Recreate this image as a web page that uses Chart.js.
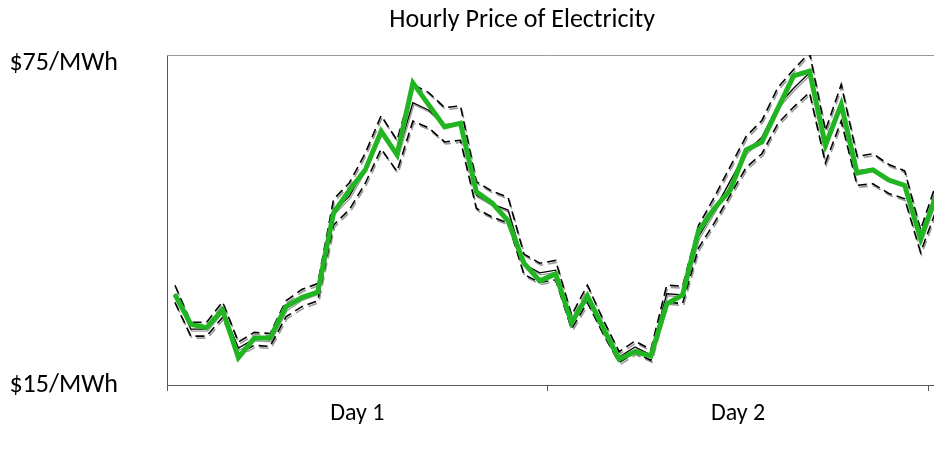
<!DOCTYPE html>
<html>
<head>
<meta charset="utf-8">
<script src="https://cdn.jsdelivr.net/npm/chart.js@4/dist/chart.umd.min.js"></script>
<style>
  html, body { margin: 0; padding: 0; background: #ffffff; }
  #wrap { width: 934px; height: 452px; position: relative; }
</style>
</head>
<body>
<div id="wrap"><canvas id="c" width="934" height="452"></canvas></div>
<script>
// ---- data (hourly, 2 days + first hour of day 3, $/MWh) ----
const chartTitle = 'Hourly Price of Electricity';
const dayLabels = ['Day 1', 'Day 2'];
const hoursPerDay = 24;
const yTickValues = [15, 75];

const actualPrice = [
  31.9, 26.3, 25.7, 29.0, 20.1, 23.7, 23.8, 29.6, 31.3, 32.3, 47.1, 51.3,
  55.1, 62.3, 57.9, 71.3, 67.2, 63.1, 63.8, 51.0, 48.9, 45.6, 37.7, 34.4,
  35.7, 26.6, 31.6, 25.6, 19.8, 21.2, 20.4, 30.1, 31.8, 43.7, 47.9, 51.3,
  58.8, 60.3, 66.5, 72.6, 73.5, 59.7, 67.3, 54.5, 55.1, 53.2, 52.2, 42.3,
  50.4
];
const forecastPrice = [
  32.0, 25.4, 25.4, 29.0, 21.9, 23.6, 23.4, 29.2, 31.2, 32.3, 47.2, 50.2,
  55.4, 62.1, 57.7, 67.6, 66.2, 63.5, 63.8, 50.4, 48.7, 47.6, 37.5, 35.9,
  36.4, 26.7, 32.0, 25.8, 20.2, 22.1, 20.6, 32.0, 31.8, 42.6, 47.6, 53.0,
  58.4, 61.2, 67.0, 70.3, 73.2, 59.4, 67.6, 54.9, 55.3, 53.4, 52.3, 41.8,
  50.2
];
const upperBand = [
  33.6, 26.7, 26.7, 30.5, 23.0, 24.8, 24.6, 30.7, 32.8, 33.9, 49.6, 52.7,
  58.2, 65.2, 60.6, 71.0, 69.5, 66.7, 67.0, 52.9, 51.1, 50.0, 39.4, 37.7,
  38.2, 28.0, 33.6, 27.1, 21.2, 23.2, 21.6, 33.6, 33.4, 44.7, 50.0, 55.7,
  61.3, 64.3, 70.4, 73.8, 76.9, 62.4, 71.0, 57.6, 58.1, 56.1, 54.9, 43.9,
  52.7
];
const lowerBand = [
  30.4, 24.1, 24.1, 27.6, 20.8, 22.4, 22.2, 27.7, 29.6, 30.7, 44.8, 47.7,
  52.6, 59.0, 54.8, 64.2, 62.9, 60.3, 60.6, 47.9, 46.3, 45.2, 35.6, 34.1,
  34.6, 25.4, 30.4, 24.5, 19.2, 21.0, 19.6, 30.4, 30.2, 40.5, 45.2, 50.4,
  55.5, 58.1, 63.7, 66.8, 69.5, 56.4, 64.2, 52.2, 52.5, 50.7, 49.7, 39.7,
  47.7
];

// ---- helpers ----
const toPoints = arr => arr.map((v, i) => ({ x: i + 0.5, y: v }));
const FONT = "'Carlito', 'Lato', 'Open Sans', sans-serif";
const nDays = dayLabels.length;
const xMaxVisible = nDays * hoursPerDay * 1.00725; // view is cut just past end of day 2

const shadowPlugin = {
  id: 'lineShadow',
  beforeDatasetDraw(chart, args) {
    const ds = chart.data.datasets[args.index];
    if (!ds.shadow) return;
    const ctx = chart.ctx;
    ctx.save();
    ctx.shadowColor = 'rgba(0,0,0,0.4)';
    ctx.shadowOffsetX = 1;
    ctx.shadowOffsetY = 2;
    ctx.shadowBlur = 0.5;
  },
  afterDatasetDraw(chart, args) {
    const ds = chart.data.datasets[args.index];
    if (!ds.shadow) return;
    chart.ctx.restore();
  }
};

const frameAndTitle = {
  id: 'frameAndTitle',
  beforeDatasetsDraw(chart) {
    const { ctx, chartArea } = chart;
    ctx.save();
    ctx.strokeStyle = '#9a9a9a';
    ctx.lineWidth = 1;
    ctx.beginPath();
    ctx.moveTo(chartArea.left, chartArea.top + 0.5);
    ctx.lineTo(chart.width, chartArea.top + 0.5);
    ctx.stroke();
    ctx.restore();
  },
  afterDraw(chart) {
    const ctx = chart.ctx;
    ctx.save();
    ctx.fillStyle = '#000';
    ctx.font = "26px " + FONT;
    ctx.textAlign = 'center';
    ctx.textBaseline = 'middle';
    ctx.fillText(chartTitle, chart.width * 0.559, 20);
    ctx.restore();
  }
};

const blackDash = {
  borderColor: '#000000',
  borderWidth: 1.6,
  borderDash: [9, 5],
  pointRadius: 0,
  tension: 0,
  fill: false,
  shadow: true
};

new Chart(document.getElementById('c'), {
  type: 'line',
  data: {
    datasets: [
      Object.assign({ label: 'Upper', data: toPoints(upperBand), order: 4 }, blackDash),
      Object.assign({ label: 'Lower', data: toPoints(lowerBand), order: 3 }, blackDash),
      { label: 'Forecast', data: toPoints(forecastPrice), borderColor: '#000000', borderWidth: 1.3,
        pointRadius: 0, tension: 0, fill: false, shadow: true, order: 2 },
      { label: 'Actual', data: toPoints(actualPrice), borderColor: '#22b522', borderWidth: 5,
        pointRadius: 0, tension: 0, fill: false, borderJoinStyle: 'miter', order: 1 }
    ]
  },
  options: {
    responsive: false,
    animation: false,
    layout: { padding: { left: 0, right: 0, top: 55, bottom: 0 } },
    plugins: { legend: { display: false }, title: { display: false }, tooltip: { enabled: false } },
    scales: {
      x: {
        type: 'linear',
        min: 0,
        max: xMaxVisible,
        afterBuildTicks(scale) {
          const t = [];
          for (let d = 0; d <= nDays * 2; d++) t.push({ value: d * hoursPerDay / 2 });
          scale.ticks = t;
        },
        afterFit(scale) { scale.height = 67; scale.paddingRight = 0; scale.paddingLeft = 0; },
        grid: {
          drawOnChartArea: false,
          drawTicks: true,
          tickLength: 6,
          tickWidth: 1,
          tickColor: ctx => (ctx.tick && ctx.tick.value % hoursPerDay === 0) ? '#595959' : 'rgba(0,0,0,0)'
        },
        border: { display: true, color: '#595959', width: 1 },
        ticks: {
          autoSkip: false,
          maxRotation: 0,
          padding: 9,
          color: '#000',
          font: { family: FONT, size: 24 },
          callback: v => {
            const d = (v - hoursPerDay / 2) / hoursPerDay;
            return (Number.isInteger(d) && d >= 0 && d < nDays) ? dayLabels[d] : '';
          }
        }
      },
      y: {
        type: 'linear',
        min: 15,
        max: 76.5,
        afterBuildTicks(scale) { scale.ticks = yTickValues.map(v => ({ value: v })); },
        afterFit(scale) { scale.width = 167; scale.paddingTop = 0; scale.paddingBottom = 0; },
        grid: { drawOnChartArea: false, drawTicks: false },
        border: { display: true, color: '#595959', width: 1 },
        ticks: {
          padding: 49,
          color: '#000',
          font: { family: FONT, size: 26 },
          callback: v => '$' + v + '/MWh'
        }
      }
    }
  },
  plugins: [shadowPlugin, frameAndTitle]
});
</script>
</body>
</html>
